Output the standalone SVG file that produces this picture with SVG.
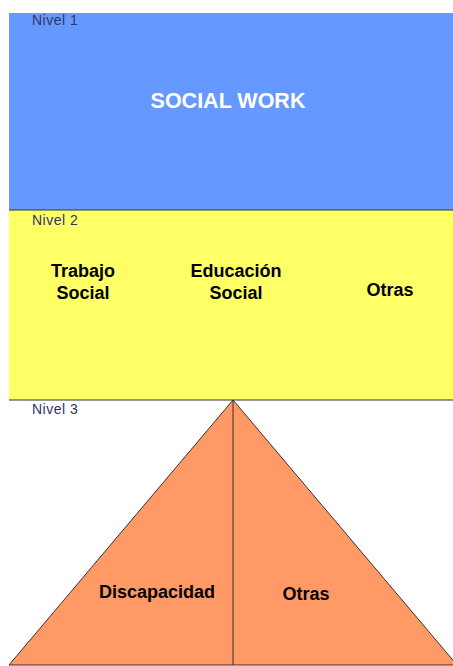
<svg xmlns="http://www.w3.org/2000/svg" width="453" height="666" viewBox="0 0 453 666">
<style>
.lvl{font-family:"Liberation Sans",Arial,sans-serif;font-size:14px;letter-spacing:0.5px;fill:#333366}
.lbl{font-family:"Liberation Sans",Arial,sans-serif;font-size:18px;font-weight:bold;fill:#000;text-anchor:middle}
.edge{stroke:#333;stroke-width:1;fill:none}
</style>
<rect width="453" height="666" fill="#fff"/>
<g id="nivel1">
<rect x="9" y="13" width="450" height="197" fill="#6699FF"/>
<text class="lvl" x="32" y="25">Nivel 1</text>
<text x="228" y="108" font-family="Liberation Sans,Arial,sans-serif" font-size="21.5" font-weight="bold" fill="#fff" text-anchor="middle">SOCIAL WORK</text>
</g>
<g id="nivel2">
<rect x="9" y="210" width="450" height="190" fill="#FFFF66"/>
<text class="lvl" x="32" y="225">Nivel 2</text>
<text class="lbl" x="83" y="276.5">Trabajo</text>
<text class="lbl" x="83" y="298.5">Social</text>
<text class="lbl" x="236" y="276.5">Educación</text>
<text class="lbl" x="236" y="298.5">Social</text>
<text class="lbl" x="390" y="295.5">Otras</text>
</g>
<g id="nivel3">
<text class="lvl" x="32" y="414">Nivel 3</text>
<polygon points="233,400 9,665 457,665" fill="#FF9966" stroke="#333" stroke-width="1"/>
<text class="lbl" x="157" y="597.5">Discapacidad</text>
<text class="lbl" x="306" y="599.5">Otras</text>
</g>
<g id="connectors">
<line class="edge" x1="9" y1="210" x2="453" y2="210"/>
<line class="edge" x1="9" y1="400" x2="453" y2="400"/>
<line class="edge" x1="233" y1="400" x2="233" y2="665"/>
</g>
</svg>
